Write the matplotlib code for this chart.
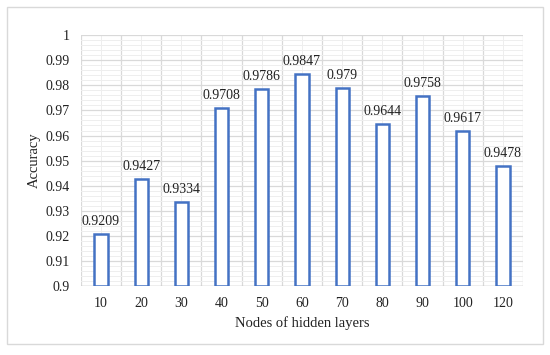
import matplotlib.pyplot as plt
from matplotlib.patches import Rectangle
from matplotlib.ticker import MultipleLocator, FormatStrFormatter, FixedLocator
import numpy as np

plt.rcParams['font.family'] = ['Liberation Serif', 'DejaVu Serif']

# data
nodes = ['10', '20', '30', '40', '50', '60', '70', '80', '90', '100', '120']
accuracy = [0.9209, 0.9427, 0.9334, 0.9708, 0.9786, 0.9847, 0.979, 0.9644, 0.9758, 0.9617, 0.9478]
value_labels = ['0.9209', '0.9427', '0.9334', '0.9708', '0.9786', '0.9847', '0.979', '0.9644', '0.9758', '0.9617', '0.9478']

fig = plt.figure(figsize=(5.5, 3.55), dpi=100)
ax = fig.add_axes([0.147, 0.194, 0.804, 0.707])

# outer frame
fig.patches.append(Rectangle((0.0127, 0.031), 0.975, 0.949, transform=fig.transFigure,
                             fill=False, edgecolor='#d9d9d9', linewidth=1.0))

x = np.arange(len(nodes))
base = 0.9
ax.bar(x, np.array(accuracy) - base, bottom=base, width=0.33, color='white',
       edgecolor='#4472c4', linewidth=1.8, zorder=3)

for xi, v, lab in zip(x, accuracy, value_labels):
    ax.text(xi, v + 0.0024, lab, ha='center', va='bottom', fontsize=10, color='#222222', zorder=4)

ax.set_xlim(-0.5, len(nodes) - 0.5)
ax.set_ylim(0.9, 1.0)

ax.xaxis.set_major_locator(FixedLocator(np.arange(-0.5, len(nodes), 1.0)))
ax.xaxis.set_major_formatter(plt.NullFormatter())
ax.set_xticks(x, labels=nodes, minor=True)

ax.yaxis.set_major_locator(MultipleLocator(0.01))
ax.yaxis.set_minor_locator(MultipleLocator(0.002))
ax.yaxis.set_major_formatter(FormatStrFormatter('%g'))

ax.grid(which='major', color='#d9d9d9', linewidth=0.9, zorder=0)
ax.grid(which='minor', color='#eeeeee', linewidth=0.7, zorder=0)
ax.set_axisbelow(True)

ax.tick_params(which='both', length=0, labelsize=10, colors='#222222')
ax.tick_params(axis='x', which='minor', pad=8)
ax.tick_params(axis='y', pad=8)

for s in ax.spines.values():
    s.set_visible(False)
ax.axhline(0.9, color='#bfbfbf', linewidth=1.0, zorder=2)

ax.set_xlabel('Nodes of hidden layers', fontsize=10.5, color='#222222', labelpad=4)
ax.set_ylabel('Accuracy', fontsize=10.5, color='#222222', labelpad=3)

fig.savefig('out.png', dpi=100)
